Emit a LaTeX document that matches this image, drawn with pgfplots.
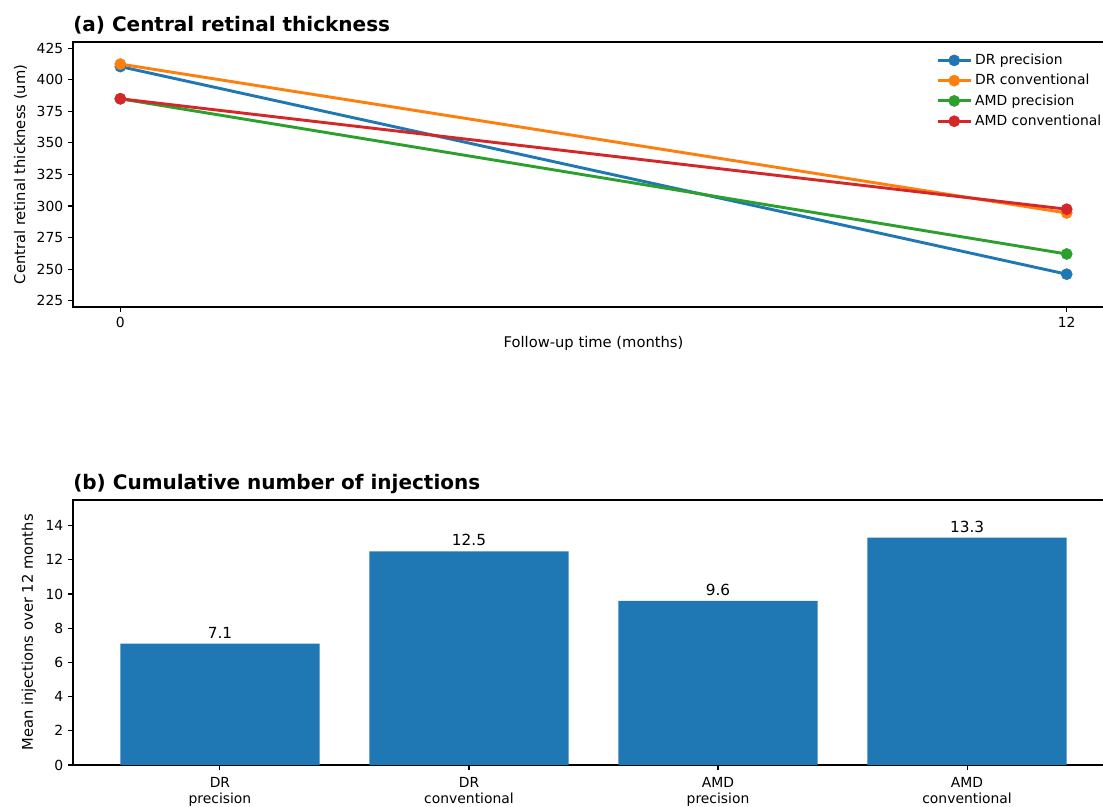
\documentclass[border=0pt]{standalone}
\usepackage{fontspec}
\setmainfont{DejaVu Sans}
\usepackage{pgfplots}
\pgfplotsset{compat=1.18}
\definecolor{cA}{HTML}{1F77B4}
\definecolor{cB}{HTML}{FF7F0E}
\definecolor{cC}{HTML}{2CA02C}
\definecolor{cD}{HTML}{D62728}
\pgfplotsset{
  mystyle/.style={
    scale only axis, width=749.52pt, height=190.8pt, anchor=south west,
    tick align=outside, major tick length=3.5pt, tick pos=left,
    tick style={black, line width=0.8pt},
    axis line style={line width=0.8pt},
    ticklabel style={font=\fontsize{10}{12}\selectfont},
    label style={font=\fontsize{10.6}{12}\selectfont},
    /pgf/number format/assume math mode=true,
    title style={at={(0,1)}, anchor=base west, yshift=1.5pt, inner sep=0pt, font=\fontsize{14.4}{16}\selectfont\bfseries},
  },
  myline/.style={line width=2.1pt, mark=*, mark size=4pt, mark options={line width=0.4pt}},
}
\begin{document}
\begin{tikzpicture}
\path[use as bounding box, clip] (0,0) rectangle (794.16pt,580.32pt);
\begin{axis}[mystyle, at={(52.56pt,359.28pt)},
  xmin=-0.6, xmax=12.6, ymin=220, ymax=430,
  xtick={0,12}, ytick={225,250,...,425},
  xlabel={Follow-up time (months)},
  ylabel={Central retinal thickness (um)},
  title={(a) Central retinal thickness},
  legend style={draw=none, fill=none, at={(rel axis cs:1,1)}, anchor=north east, xshift=-4pt, yshift=-4.5pt,
    font=\fontsize{10}{12}\selectfont, row sep=1.5pt, cells={anchor=west}},
  legend image code/.code={\draw[mark repeat=2,mark phase=2] plot coordinates {(0pt,0pt)(12pt,0pt)(24pt,0pt)};},
]
\addplot[myline, color=cA] coordinates {(0,410.5) (12,246)};
\addlegendentry{DR precision}
\addplot[myline, color=cB] coordinates {(0,412.5) (12,294.5)};
\addlegendentry{DR conventional}
\addplot[myline, color=cC] coordinates {(0,385) (12,262)};
\addlegendentry{AMD precision}
\addplot[myline, color=cD] coordinates {(0,385) (12,297.5)};
\addlegendentry{AMD conventional}
\end{axis}
\begin{axis}[mystyle, at={(52.56pt,29.52pt)},
  xmin=-0.59, xmax=3.59, ymin=0, ymax=15.5,
  xtick={0,1,2,3}, ytick={0,2,...,14},
  xticklabels={{DR\\precision},{DR\\conventional},{AMD\\precision},{AMD\\conventional}},
  xticklabel style={align=center, font=\fontsize{10}{11.5}\selectfont, yshift=-2pt},
  ylabel={Mean injections over 12 months},
  title={(b) Cumulative number of injections},
  ybar, bar width=0.8,
  nodes near coords={\pgfmathprintnumber[fixed,fixed zerofill,precision=1,assume math mode=true]{\pgfplotspointmeta}},
  every node near coord/.append style={font=\fontsize{11}{13}\selectfont, black, inner sep=3.5pt},
]
\addplot[fill=cA, draw=none] coordinates {(0,7.1) (1,12.5) (2,9.6) (3,13.3)};
\end{axis}
\end{tikzpicture}
\end{document}
